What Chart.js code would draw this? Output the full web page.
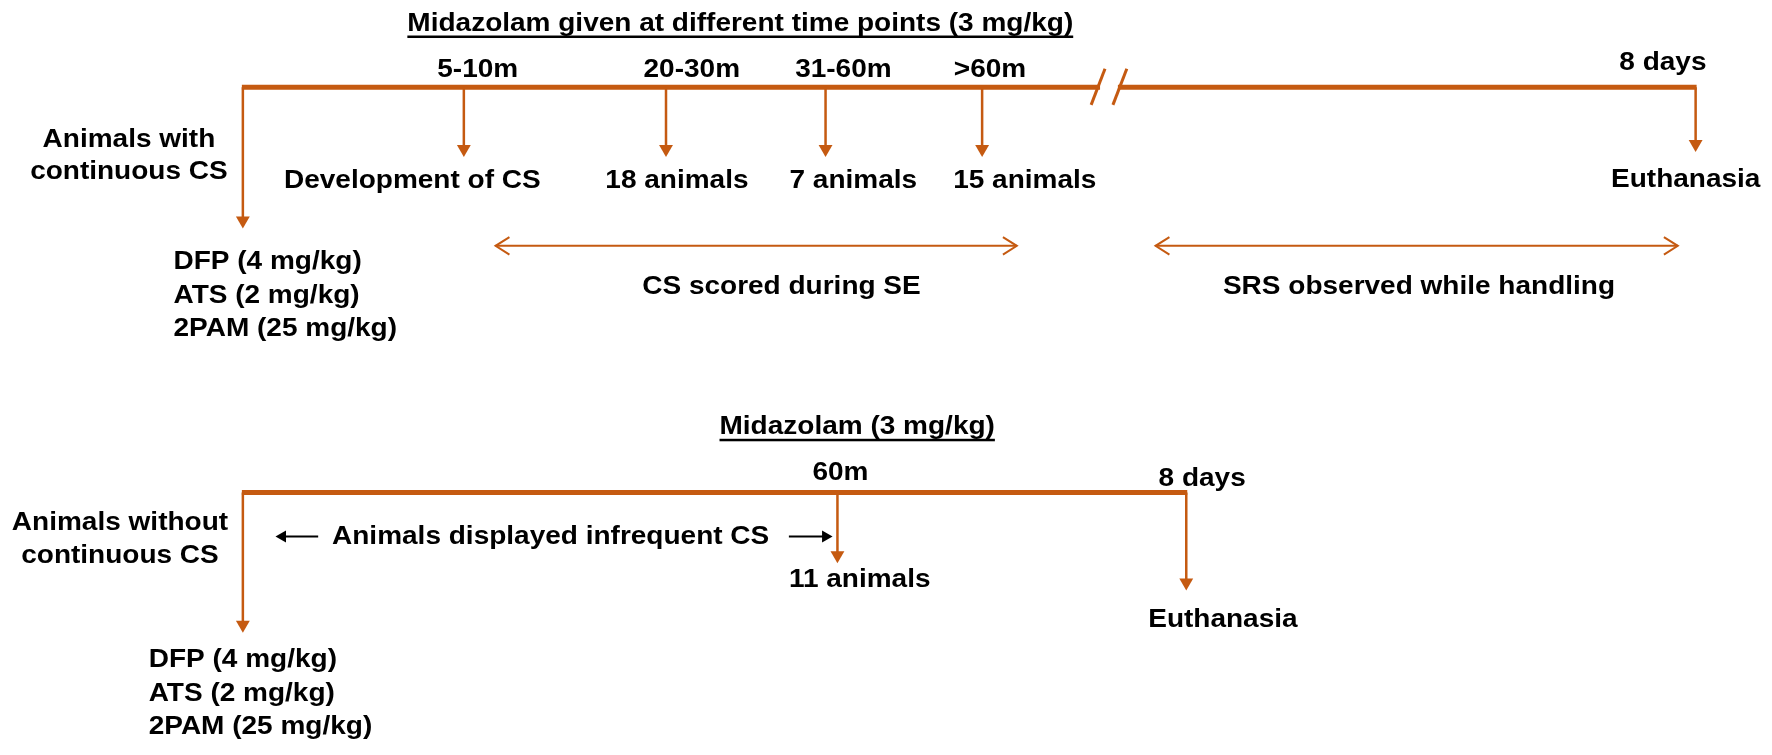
<!DOCTYPE html>
<html>
<head>
<meta charset="utf-8">
<script src="https://cdn.jsdelivr.net/npm/chart.js@4.4.1/dist/chart.umd.min.js"></script>
<style>
  html, body { margin: 0; padding: 0; background: #fff; }
  #wrap { width: 1772px; height: 755px; position: relative; }
</style>
</head>
<body>
<div id="wrap"><canvas id="timeline"></canvas></div>
<script>
// study design content
const topTitle = 'Midazolam given at different time points (3 mg/kg)';
const topTimes = ['5-10m', '20-30m', '31-60m', '>60m'];
const topOutcomes = ['Development of CS', '18 animals', '7 animals', '15 animals'];
const topGroup = ['Animals with', 'continuous CS'];
const bottomTitle = 'Midazolam (3 mg/kg)';
const bottomTimes = ['60m'];
const bottomOutcomes = ['11 animals'];
const bottomGroup = ['Animals without', 'continuous CS'];
const endLabel = '8 days';
const endOutcome = 'Euthanasia';
const drugs = ['DFP (4 mg/kg)', 'ATS (2 mg/kg)', '2PAM (25 mg/kg)'];
const phases = ['CS scored during SE', 'SRS observed while handling'];
const infrequent = 'Animals displayed infrequent CS';

// layout (diagram units = picture pixels)
const topY = 81, botY = 495;
const startX = 237;
const topStemX = [460, 664, 825, 983];
const topTimeX = [474, 690, 843, 991];
const topOutX = [408, 675, 853, 1026];
const topEndX = 1703;
const botStemX = [837];
const botEndX = 1189;
const breakX = [1102, 1120];

const ORANGE = '#c55a11';
const FONT = 'bold 25px "Liberation Sans", Arial, sans-serif';
const STRETCH = 1.12;

function seg(pts, w, color, radii, rot) {
  return {
    data: pts.map(p => ({ x: p[0], y: p[1] })),
    showLine: true,
    borderColor: color || ORANGE,
    borderWidth: w,
    borderCapStyle: 'butt',
    pointRadius: radii || 0,
    pointHoverRadius: radii || 0,
    pointStyle: 'triangle',
    rotation: rot || 0,
    pointBackgroundColor: color || ORANGE,
    pointBorderWidth: 0,
    tension: 0,
    clip: false
  };
}
// down arrow from the bar to tipY
function stem(x, y0, tipY) {
  return seg([[x, y0], [x, tipY - 8]], 2.5, ORANGE, [0, 8], 180);
}
function chevron(tipX, y, dir) {
  return seg([[tipX + dir * 14, y - 9], [tipX, y], [tipX + dir * 14, y + 9]], 2);
}

let ds = [];
// top timeline with break
ds.push(seg([[startX - 1, topY], [breakX[0], topY]], 5));
ds.push(seg([[breakX[1], topY], [topEndX + 1, topY]], 5));
ds.push(seg([[1093, 99], [1107, 62]], 3));
ds.push(seg([[1115, 99], [1129, 62]], 3));
ds.push(stem(startX, topY, 225));
topStemX.forEach(x => ds.push(stem(x, topY, 152)));
ds.push(stem(topEndX, topY, 147));
// phase double arrows
[[492, 1018], [1158, 1685]].forEach(p => {
  ds.push(seg([[p[0], 243], [p[1], 243]], 2));
  ds.push(chevron(p[0], 243, 1));
  ds.push(chevron(p[1], 243, -1));
});
// bottom timeline
ds.push(seg([[startX - 1, botY], [botEndX + 1, botY]], 5));
ds.push(stem(startX, botY, 638));
botStemX.forEach(x => ds.push(stem(x, botY, 567)));
ds.push(stem(botEndX, botY, 595));
// black arrows around "infrequent CS"
ds.push(seg([[313, 540], [277, 540]], 2, '#000', [0, 7], 270));
ds.push(seg([[788, 540], [825, 540]], 2, '#000', [0, 7], 90));

// texts: [string, x, baseline, align, underline]
let texts = [
  [topTitle, 403, 23, 'left', true],
  [bottomTitle, 718, 435, 'left', true],
  [endLabel, 1670, 63, 'center'],
  [endOutcome, 1693, 183, 'center'],
  [topGroup[0], 122, 142, 'center'],
  [topGroup[1], 122, 175, 'center'],
  [bottomGroup[0], 113, 533, 'center'],
  [bottomGroup[1], 113, 567, 'center'],
  [phases[0], 640, 292, 'left'],
  [phases[1], 1226, 292, 'left'],
  [infrequent, 327, 548, 'left'],
  [bottomTimes[0], 840, 482, 'center'],
  [bottomOutcomes[0], 788, 592, 'left'],
  [endLabel, 1205, 488, 'center'],
  [endOutcome, 1226, 632, 'center']
];
topTimes.forEach((t, i) => texts.push([t, topTimeX[i], 71, 'center']));
topOutcomes.forEach((t, i) => texts.push([t, topOutX[i], 184, 'center']));
drugs.forEach((t, i) => texts.push([t, 167, 267 + i * 34, 'left']));
drugs.forEach((t, i) => texts.push([t, 142, 673 + i * 34.5, 'left']));

const labelPlugin = {
  id: 'labels',
  afterDatasetsDraw(chart) {
    const ctx = chart.ctx, sx = chart.scales.x, sy = chart.scales.y;
    ctx.save();
    ctx.font = FONT;
    ctx.fillStyle = '#000';
    ctx.textBaseline = 'alphabetic';
    texts.forEach(t => {
      const px = sx.getPixelForValue(t[1]), py = sy.getPixelForValue(t[2]);
      const w = ctx.measureText(t[0]).width * STRETCH;
      let left = px;
      if (t[3] === 'center') left = px - w / 2;
      ctx.save();
      ctx.translate(left, py);
      ctx.scale(STRETCH, 1);
      ctx.textAlign = 'left';
      ctx.fillText(t[0], 0, 0);
      ctx.restore();
      if (t[4]) ctx.fillRect(left, py + 5, w, 2.5);
    });
    ctx.restore();
  }
};

new Chart(document.getElementById('timeline'), {
  type: 'scatter',
  data: { datasets: ds },
  options: {
    responsive: true,
    maintainAspectRatio: false,
    animation: false,
    layout: { padding: 0 },
    plugins: { legend: { display: false }, tooltip: { enabled: false } },
    events: [],
    scales: {
      x: { type: 'linear', min: 0, max: 1772, display: false },
      y: { type: 'linear', min: 0, max: 755, reverse: true, display: false }
    }
  },
  plugins: [labelPlugin]
});
</script>
</body>
</html>
